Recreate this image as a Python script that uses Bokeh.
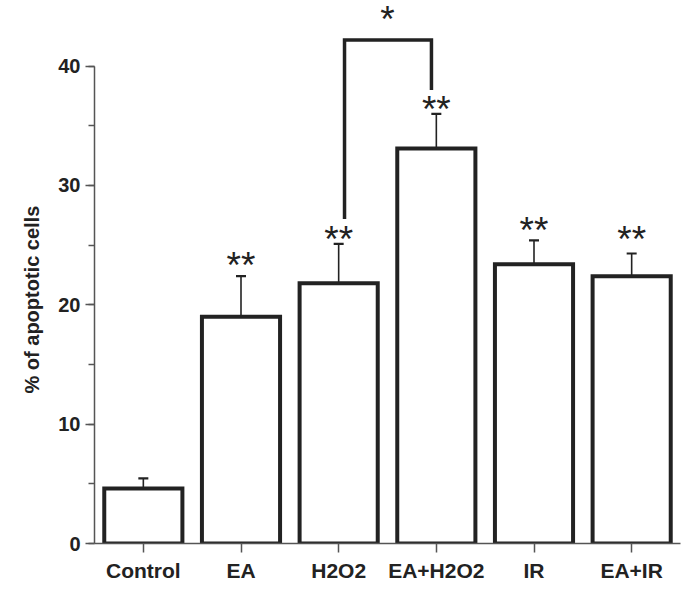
from bokeh.plotting import figure
from bokeh.models import ColumnDataSource, Range1d, FactorRange, SingleIntervalTicker, Whisker, TeeHead, Title
from bokeh.core.properties import value
from bokeh.embed import file_html
from bokeh.resources import INLINE

categories = ["Control", "EA", "H2O2", "EA+H2O2", "IR", "EA+IR"]
means = [4.6, 19.0, 21.8, 33.1, 23.4, 22.4]
errors = [0.85, 3.4, 3.3, 2.9, 2.0, 1.9]
stars = ["", "**", "**", "**", "**", "**"]
star_y = [0, 23.3, 25.5, 36.4, 26.2, 25.5]

# significance bracket between H2O2 and EA+H2O2
bracket_x = [("H2O2", 0.06), ("H2O2", 0.06), ("EA+H2O2", -0.05), ("EA+H2O2", -0.05)]
bracket_y = [27.2, 42.2, 42.2, 38.0]
bracket_label = "*"
bracket_label_x = [("H2O2", 0.5)]
bracket_label_y = [43.9]

y_title = "% of apoptotic cells"

FONT = "Liberation Sans"
INK = "#222222"

src = ColumnDataSource(dict(
    cat=categories, mean=means,
    upper=[m + e for m, e in zip(means, errors)],
))

p = figure(width=687, height=586, x_range=FactorRange(*categories, range_padding=0),
           y_range=Range1d(0, 45.5), output_backend="svg", toolbar_location=None,
           min_border_left=94, min_border_right=7, min_border_bottom=43, min_border_top=0)
p.outline_line_color = None
p.grid.visible = False
p.background_fill_color = "white"

p.vbar(x="cat", top="mean", bottom=0, width=0.8, source=src,
       fill_color="white", line_color=INK, line_width=4, line_join="miter")

w = Whisker(source=src, base="cat", lower="mean", upper="upper", dimension="height",
            line_color=INK, line_width=1.6,
            upper_head=TeeHead(size=10, line_color=INK, line_width=2.2), lower_head=None)
p.add_layout(w)

star_src = ColumnDataSource(dict(cat=categories, y=star_y, t=stars))
p.text(x="cat", y="y", text="t", source=star_src, text_font=value(FONT),
       text_font_size="37px", text_align="center", text_baseline="middle", text_color=INK)

p.line(x=bracket_x, y=bracket_y, line_color=INK, line_width=3.5, line_join="miter")
p.text(x=bracket_label_x, y=bracket_label_y, text=[bracket_label], text_font=value(FONT),
       text_font_size="37px", text_align="center", text_baseline="middle", text_color=INK)

ya = p.yaxis[0]
ya.ticker = SingleIntervalTicker(interval=10, num_minor_ticks=2)
ya.bounds = (0, 40)
ya.major_label_text_font = FONT
ya.major_label_text_font_size = "20px"
ya.major_label_text_font_style = "bold"
ya.major_label_text_color = INK
ya.major_label_standoff = 5
ya.major_tick_out = 9
ya.major_tick_in = 0
ya.minor_tick_out = 6
ya.minor_tick_in = 0

# y-axis title, placed as a side title so it can sit centred on the 0-40 span
p.add_layout(Title(text=y_title, align="left", offset=150, standoff=26,
                   text_font=FONT, text_font_size="20px", text_font_style="bold",
                   text_color=INK), "left")

xa = p.xaxis[0]
xa.major_label_text_font = FONT
xa.major_label_text_font_size = "21px"
xa.major_label_text_font_style = "bold"
xa.major_label_text_color = INK
xa.major_label_standoff = 6
xa.major_tick_out = 9
xa.major_tick_in = 0

for ax in (xa, ya):
    ax.axis_line_color = "#555555"
    ax.axis_line_width = 1.5
    ax.major_tick_line_color = "#555555"
    ax.major_tick_line_width = 1.5
    ax.minor_tick_line_color = "#555555"
    ax.minor_tick_line_width = 1.5

open("out.html", "w").write(file_html(p, INLINE))
